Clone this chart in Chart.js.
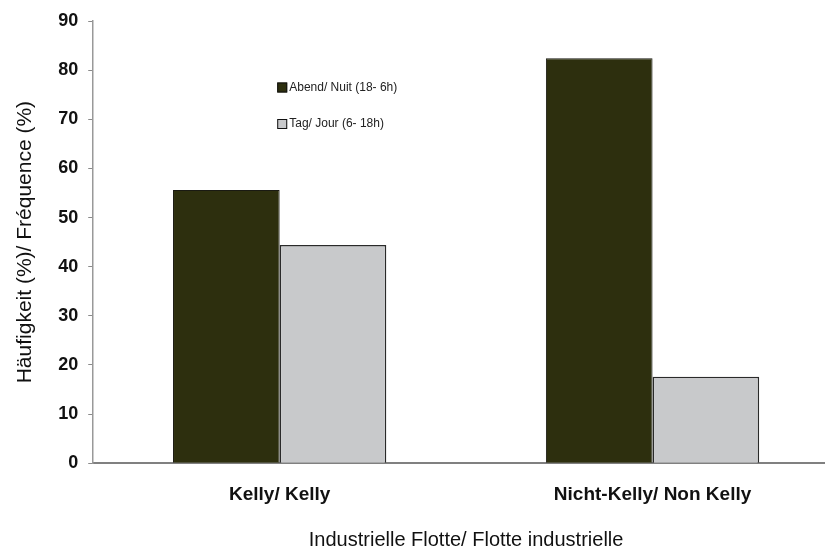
<!DOCTYPE html>
<html>
<head>
<meta charset="utf-8">
<script src="https://cdn.jsdelivr.net/npm/chart.js@4/dist/chart.umd.min.js"></script>
<style>
  html, body { margin: 0; padding: 0; background: #fff; overflow: hidden; }
  #wrap { width: 845px; height: 548px; }
</style>
</head>
<body>
<div id="wrap"><canvas id="myChart"></canvas></div>
<script>
// data
const categories = ["Kelly/ Kelly", "Nicht-Kelly/ Non Kelly"];
const nightLabel = "Abend/ Nuit (18- 6h)";
const dayLabel = "Tag/ Jour (6- 18h)";
const nightValues = [55.6, 82.4];
const dayValues = [44.4, 17.6];
const yTicks = [0, 10, 20, 30, 40, 50, 60, 70, 80, 90];

const FONT = "'Liberation Sans', Arial, sans-serif";

// legend drawn inside the plot area, like the original
const innerLegend = {
  id: "innerLegend",
  afterDraw(chart) {
    const ctx = chart.ctx;
    const area = chart.chartArea;
    ctx.save();
    ctx.font = "12px " + FONT;
    ctx.textBaseline = "middle";
    chart.data.datasets.forEach((ds, i) => {
      const x = area.left + 184;
      const y = area.top + 66.5 + i * 36.5;
      ctx.fillStyle = ds.backgroundColor;
      ctx.fillRect(x, y - 5, 10, 10);
      ctx.strokeStyle = "#111";
      ctx.lineWidth = 1;
      ctx.strokeRect(x + 0.5, y - 4.5, 9, 9);
      ctx.fillStyle = "#222";
      ctx.fillText(ds.label, x + 12, y);
    });
    ctx.restore();
  },
};

let ctx = document.getElementById("myChart").getContext("2d");
let myChart = new Chart(ctx, {
  type: "bar",
  data: {
    labels: categories,
    datasets: [
      {
        label: nightLabel,
        data: nightValues,
        backgroundColor: "#2d2f0e",
        borderColor: "#1a1a12",
        borderWidth: 1,
      },
      {
        label: dayLabel,
        data: dayValues,
        backgroundColor: "#c8c9cb",
        borderColor: "#2a2a2a",
        borderWidth: 1.5,
      },
    ],
  },
  options: {
    responsive: true,
    maintainAspectRatio: false,
    animation: false,
    layout: { padding: { top: 21, right: 6, left: 13, bottom: 0 } },
    plugins: {
      legend: { display: false },
      tooltip: { enabled: false },
    },
    datasets: {
      bar: { categoryPercentage: 0.572, barPercentage: 1.0 },
    },
    scales: {
      x: {
        grid: { display: false },
        border: { display: true, color: "#808080", width: 2 },
        ticks: {
          color: "#111",
          padding: 12,
          font: { family: FONT, size: 19, weight: "bold" },
        },
        title: {
          display: true,
          text: "Industrielle Flotte/ Flotte industrielle",
          color: "#111",
          padding: { top: 14, bottom: 0 },
          font: { family: FONT, size: 20, lineHeight: 0.8 },
        },
      },
      y: {
        min: 0,
        max: 90,
        afterBuildTicks: (scale) => {
          scale.ticks = yTicks.map((v) => ({ value: v }));
        },
        grid: { display: true, drawOnChartArea: false, tickLength: 5, color: "#8a8a8a" },
        border: { display: true, color: "#999", width: 1.5 },
        ticks: {
          color: "#111",
          padding: 10,
          font: { family: FONT, size: 18, weight: "bold" },
        },
        title: {
          display: true,
          text: "Häufigkeit (%)/ Fréquence (%)",
          color: "#111",
          padding: { top: 0, bottom: 10 },
          font: { family: FONT, size: 21 },
        },
      },
    },
  },
  plugins: [innerLegend],
});
</script>
</body>
</html>
